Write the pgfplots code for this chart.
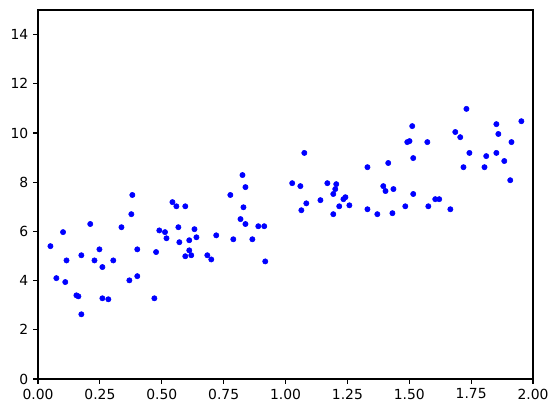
\documentclass[border=0pt]{standalone}
\usepackage{fontspec}
\setmainfont{DejaVu Sans}
\usepackage{pgfplots}
\pgfplotsset{compat=1.18}
\begin{document}
\begin{tikzpicture}
\begin{axis}[
  scale only axis,
  width=356.4pt, height=265.7pt,
  xmin=0, xmax=2, ymin=0, ymax=15,
  xtick={0,0.25,...,2}, ytick={0,2,...,14},
  xticklabel style={/pgf/number format/.cd, fixed, fixed zerofill, precision=2},
  /pgf/number format/assume math mode=true,
  tick align=outside, tick pos=left,
  major tick length=3.5pt,
  every tick/.style={black, line width=0.8pt},
  axis line style={line width=0.8pt},
  tick label style={font=\fontsize{10}{12}\selectfont},
  xticklabel shift=0pt, yticklabel shift=0pt,
]
\addplot[only marks, mark=*, mark size=1.9pt, color=blue] coordinates {
(0.381,7.48) (0.377,6.70) (0.211,6.30) (0.337,6.17) (0.101,5.97) (0.490,6.04) (0.513,5.97) (0.519,5.72)
(0.050,5.40) (0.248,5.27) (0.401,5.27) (0.477,5.16) (0.175,5.03) (0.115,4.82) (0.228,4.82) (0.304,4.82)
(0.260,4.55) (0.074,4.10) (0.110,3.94) (0.401,4.18) (0.369,4.01) (0.155,3.40) (0.163,3.36) (0.260,3.28)
(0.284,3.24) (0.470,3.28) (0.175,2.63)
(0.826,8.29) (0.838,7.80) (0.777,7.48) (0.543,7.19) (0.559,7.02) (0.595,7.02) (0.830,6.98) (0.818,6.50)
(0.838,6.30) (0.890,6.21) (0.914,6.21) (0.567,6.17) (0.632,6.09) (0.640,5.76) (0.611,5.64) (0.571,5.56)
(0.720,5.84) (0.789,5.68) (0.866,5.68) (0.611,5.23) (0.595,4.99) (0.619,5.03) (0.684,5.03) (0.700,4.86)
(0.918,4.78)
(1.076,9.19) (1.331,8.61) (1.415,8.78) (1.027,7.96) (1.060,7.84) (1.169,7.96) (1.205,7.92) (1.201,7.72)
(1.193,7.52) (1.395,7.84) (1.404,7.64) (1.436,7.72) (1.242,7.39) (1.234,7.31) (1.084,7.14) (1.141,7.27)
(1.217,7.02) (1.258,7.06) (1.064,6.86) (1.193,6.70) (1.331,6.90) (1.371,6.70) (1.432,6.74) (1.484,7.02)
(1.731,10.98) (1.512,10.28) (1.852,10.36) (1.953,10.48) (1.686,10.04) (1.706,9.83) (1.860,9.96) (1.492,9.63)
(1.501,9.67) (1.573,9.63) (1.913,9.63) (1.743,9.19) (1.811,9.06) (1.852,9.19) (1.884,8.86) (1.516,8.98)
(1.719,8.61) (1.804,8.61) (1.908,8.08) (1.516,7.52) (1.605,7.31) (1.621,7.31) (1.577,7.02) (1.666,6.90)
};
\end{axis}
\pgfresetboundingbox
\path (current axis.south west) +(-27.4pt,-24.5pt) coordinate (bl);
\path (current axis.north east) +(18pt,7.2pt) coordinate (tr);
\useasboundingbox (bl) rectangle (tr);
\end{tikzpicture}
\end{document}
